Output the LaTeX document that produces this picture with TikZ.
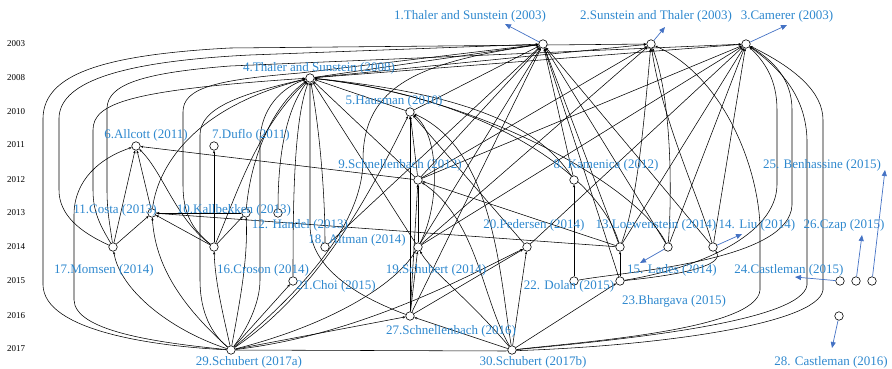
\documentclass[tikz,border=0pt]{standalone}
\usepackage{fontspec}
\setmainfont{Liberation Serif}
\usetikzlibrary{arrows.meta}
\definecolor{lblue}{RGB}{46,136,206}
\definecolor{ablue}{RGB}{68,114,196}
\pgfdeclarelayer{bg}
\pgfsetlayers{bg,main}
\tikzset{
  dot/.style={circle,draw,fill=white,inner sep=0pt,minimum size=8.5pt,line width=0.6pt},
  lab/.style={text=lblue,inner sep=0pt,font=\fontsize{13}{15}\selectfont},
  yr/.style={inner sep=0pt,font=\fontsize{9}{10}\selectfont},
  e/.style={draw=black,line width=0.55pt,-{Stealth[length=2.8pt,width=2.3pt]}},
  ba/.style={draw=ablue,line width=0.7pt,-{Triangle[length=6pt,width=5pt]}}
}
\begin{document}
\begin{tikzpicture}[x=1pt,y=-1pt]
\useasboundingbox (0,0) rectangle (892,369);
% years
\foreach \yy/\t in {44/2003,78/2008,112/2010,145/2011,180/2012,213/2013,247/2014,281/2015,316/2016,349/2017}
  \node[yr] (y\t) at (16,\yy) {\t};
% nodes
\node[dot] (n1) at (543,44) {};
\node[dot] (n2) at (651,44) {};
\node[dot] (n3) at (746,44) {};
\node[dot] (n4) at (310,78) {};
\node[dot] (n5) at (410,112) {};
\node[dot] (n6) at (136,146) {};
\node[dot] (n7) at (214,146) {};
\node[dot] (n8) at (574,180) {};
\node[dot] (n9) at (418,180) {};
\node[dot] (n10) at (246,213) {};
\node[dot] (n11) at (152,213) {};
\node[dot] (n12) at (278,213) {};
\node[dot] (n13) at (620,247) {};
\node[dot] (n14) at (713,247) {};
\node[dot] (n15) at (668,247) {};
\node[dot] (n16) at (214,247) {};
\node[dot] (n17) at (113,247) {};
\node[dot] (n18) at (325,247) {};
\node[dot] (n19) at (418,247) {};
\node[dot] (n20) at (527,247) {};
\node[dot] (n21) at (293,281) {};
\node[dot] (n22) at (574,281) {};
\node[dot] (n23) at (620,281) {};
\node[dot] (n24) at (840,281) {};
\node[dot] (n25) at (872,281) {};
\node[dot] (n26) at (856,281) {};
\node[dot] (n27) at (410,316) {};
\node[dot] (n28) at (839,316) {};
\node[dot] (n29) at (231,350) {};
\node[dot] (n30) at (512,350) {};
% labels
\node[lab] (l1) at (470,16) {1.Thaler and Sunstein (2003)};
\node[lab] (l2) at (656,16) {2.Sunstein and Thaler (2003)};
\node[lab] (l3) at (787,16) {3.Camerer (2003)};
\node[lab] (l4) at (319,68) {4.Thaler and Sunstein (2008)};
\node[lab] (l5) at (394,101) {5.Hausman (2010)};
\node[lab] (l6) at (146,135) {6.Allcott (2011)};
\node[lab] (l7) at (251,135) {7.Duflo (2011)};
\node[lab] (l8) at (606,165) {8. Kamenica (2012)};
\node[lab] (l9) at (400,165) {9.Schnellenbach (2012)};
\node[lab] (l10) at (234,210) {10.Kallbekken (2013)};
\node[lab] (l11) at (115,210) {11.Costa (2013)};
\node[lab] (l12) at (300,225) {12. Handel (2013)};
\node[lab] (l13) at (656,225) {13.Loewenstein (2014)};
\node[lab] (l14) at (757,225) {14. Liu (2014)};
\node[lab] (l15) at (672,270) {15. Lades (2014)};
\node[lab] (l16) at (263,270) {16.Croson (2014)};
\node[lab] (l17) at (104,270) {17.Momsen (2014)};
\node[lab] (l18) at (357,240) {18. Altman (2014)};
\node[lab] (l19) at (436,270) {19.Schubert (2014)};
\node[lab] (l20) at (534,225) {20.Pedersen (2014)};
\node[lab] (l21) at (336,286) {21.Choi (2015)};
\node[lab] (l22) at (569,286) {22. Dolan (2015)};
\node[lab] (l23) at (674,301) {23.Bhargava (2015)};
\node[lab] (l24) at (789,270) {24.Castleman (2015)};
\node[lab] (l25) at (822,165) {25. Benhassine (2015)};
\node[lab] (l26) at (844,225) {26.Czap (2015)};
\node[lab] (l27) at (451,331) {27.Schnellenbach (2016)};
\node[lab] (l28) at (831,362) {28. Castleman (2016)};
\node[lab] (l29) at (249,362) {29.Schubert (2017a)};
\node[lab] (l30) at (533,362) {30.Schubert (2017b)};
% blue arrow ends
\coordinate (a1) at (505,24);
\coordinate (a2) at (665,27);
\coordinate (a3) at (787,25);
\coordinate (a14) at (742,234);
\coordinate (a15) at (640,263);
\coordinate (a24) at (795,277);
\coordinate (a26) at (862,235);
\coordinate (a25) at (885,170);
\coordinate (a28) at (832,348);
\draw[ba] (n1) -- (a1);
\draw[ba] (n2) -- (a2);
\draw[ba] (n3) -- (a3);
\draw[ba] (n14) -- (a14);
\draw[ba] (n15) -- (a15);
\draw[ba] (n24) -- (a24);
\draw[ba] (n26) -- (a26);
\draw[ba] (n25) -- (a25);
\draw[ba] (n28) -- (a28);
\begin{pgfonlayer}{bg}
% long outer curves
\draw[e] (n29) .. controls (150,346) and (44,330) .. (43,285) -- (43,118) .. controls (44,75) and (100,55) .. (230,48) -- (n2);
\draw[e] (n17) .. controls (80,232) and (59,215) .. (59,190) -- (59,118) .. controls (60,85) and (110,62) .. (250,55) -- (n1);
\draw[e] (n17) .. controls (100,225) and (93,212) .. (93,190) -- (93,130) .. controls (93,103) and (130,90) .. (n4);
\draw[e] (n17) .. controls (110,225) and (107,212) .. (107,190) -- (107,108) .. controls (108,85) and (140,73) .. (230,66) -- (n3);
\draw[e] (n29) .. controls (150,342) and (75,330) .. (74,300) -- (74,215) .. controls (74,180) and (100,158) .. (n6);
\draw[e] (n11) .. controls (157,170) and (190,108) .. (n4);
\draw[e] (n16) .. controls (175,218) and (163,172) .. (n6);
\draw[e] (n16) .. controls (190,228) and (183,210) .. (183,185) -- (183,112) .. controls (183,88) and (215,80) .. (300,73) -- (n1);
\draw[e] (n16) .. controls (235,200) and (255,130) .. (n4);
\draw[e] (n29) .. controls (207,330) and (200,305) .. (200,280) -- (200,135) .. controls (200,108) and (240,94) .. (n4);
\draw[e] (n29) .. controls (250,325) and (260,300) .. (260,280) -- (260,140) .. controls (261,110) and (280,88) .. (n4);
\draw[e] (n10) .. controls (250,165) and (268,110) .. (n4);
\draw[e] (n12) .. controls (278,155) and (286,110) .. (n4);
\draw[e] (n21) .. controls (293,200) and (294,120) .. (n4);
\draw[e] (n18) .. controls (325,185) and (318,120) .. (n4);
\draw[e] (n27) .. controls (345,292) and (310,262) .. (310,225) -- (n4);
\draw[e] (n19) -- (n4);
\draw[e] (n9) -- (n4);
\draw[e] (n5) -- (n4);
\draw[e] (n8) .. controls (540,128) and (470,94) .. (n4);
\draw[e] (n13) .. controls (600,175) and (485,97) .. (n4);
\draw[e] (n15) .. controls (640,190) and (490,98) .. (n4);
\draw[e] (n4) -- (n1);
\draw[e] (n4) -- (n2);
\draw[e] (n4) -- (n3);
% node 5
\draw[e] (n5) -- (n1);
\draw[e] (n9) -- (n5);
\draw[e] (n27) -- (n5);
\draw[e] (n20) -- (n5);
\draw[e] (n19) .. controls (440,205) and (440,135) .. (n5);
\draw[e] (n30) .. controls (500,280) and (495,150) .. (n5);
\draw[e] (n29) .. controls (320,290) and (372,190) .. (n5);
% 6, 7, 8
\draw[e] (n17) -- (n6);
\draw[e] (n11) -- (n6);
\draw[e] (n9) -- (n6);
\draw[e] (n16) -- (n7);
\draw[e] (n22) -- (n8);
\draw[e] (n8) -- (n1);
% 9
\draw[e] (n19) -- (n9);
\draw[e] (n27) -- (n9);
\draw[e] (n9) -- (n1);
\draw[e] (n9) -- (n2);
\draw[e] (n9) -- (n3);
\draw[e] (n13) -- (n9);
\draw[e] (n30) .. controls (482,300) and (478,220) .. (n9);
% 10, 11
\draw[e] (n16) -- (n10);
\draw[e] (n29) .. controls (240,300) and (248,260) .. (n10);
\draw[e] (n10) -- (n11);
\draw[e] (n17) -- (n11);
\draw[e] (n16) -- (n11);
\draw[e] (n29) .. controls (175,300) and (155,260) .. (n11);
\draw[e] (n13) -- (n11);
% 13, 14, 15
\draw[e] (n23) -- (n13);
\draw[e] (n13) -- (n1);
\draw[e] (n13) -- (n3);
\draw[e] (n13) .. controls (638,200) and (645,110) .. (n2);
\draw[e] (n14) -- (n1);
\draw[e] (n14) -- (n3);
\draw[e] (n14) .. controls (700,200) and (662,120) .. (n2);
\draw[e] (n23) .. controls (690,274) and (724,264) .. (n14);
\draw[e] (n15) -- (n1);
\draw[e] (n15) -- (n3);
\draw[e] (n15) .. controls (672,195) and (672,100) .. (n2);
% 16, 17, 18
\draw[e] (n29) .. controls (222,310) and (215,280) .. (n16);
\draw[e] (n29) .. controls (170,330) and (120,290) .. (n17);
\draw[e] (n18) -- (n1);
% 19, 20, 21
\draw[e] (n27) -- (n19);
\draw[e] (n30) .. controls (470,300) and (430,270) .. (n19);
\draw[e] (n29) .. controls (330,325) and (395,285) .. (n19);
\draw[e] (n19) -- (n1);
\draw[e] (n19) -- (n2);
\draw[e] (n19) -- (n3);
\draw[e] (n27) -- (n20);
\draw[e] (n30) -- (n20);
\draw[e] (n29) .. controls (360,335) and (470,275) .. (n20);
\draw[e] (n20) -- (n3);
\draw[e] (n29) -- (n21);
% 22, 23
\draw[e] (n22) .. controls (620,272) and (790,262) .. (792,205) -- (792,110) .. controls (792,78) and (772,60) .. (n3);
\draw[e] (n30) -- (n23);
\draw[e] (n23) -- (n1);
\draw[e] (n23) .. controls (700,268) and (776,235) .. (777,185) -- (777,110) .. controls (777,80) and (765,62) .. (n3);
% 27
\draw[e] (n29) -- (n27);
\draw[e] (n30) -- (n27);
\draw[e] (n27) -- (n1);
% 29, 30
\draw[e] (n29) .. controls (290,300) and (363,230) .. (363,160) .. controls (363,85) and (420,62) .. (n1);
\draw[e] (n29) -- (505,351) .. controls (650,347) and (818,325) .. (823,290) -- (823,120) .. controls (823,92) and (795,68) .. (n3);
\draw[e] (n30) .. controls (620,340) and (802,322) .. (807,285) -- (807,140) .. controls (806,100) and (785,72) .. (n3);
\draw[e] (n30) .. controls (580,342) and (757,330) .. (760,290) -- (760,225) .. controls (757,160) and (720,75) .. (n2);
\end{pgfonlayer}
\end{tikzpicture}
\end{document}
